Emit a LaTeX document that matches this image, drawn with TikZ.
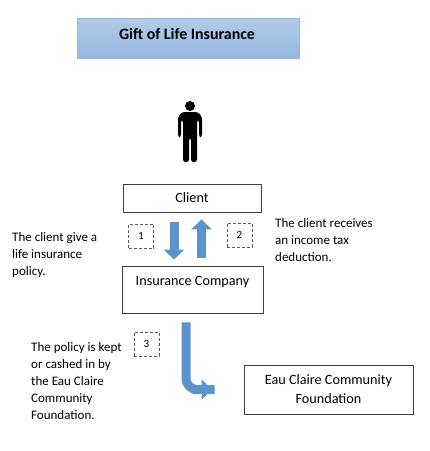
\documentclass[tikz,border=0pt]{standalone}
\usepackage{fontspec}
\setmainfont{Carlito}
\usepackage{xcolor}
\usepackage{tikz}
\usetikzlibrary{arrows.meta,positioning,calc}
\definecolor{arrowblue}{HTML}{5B93CC}
\definecolor{titletop}{HTML}{B4CBE9}
\definecolor{titlebottom}{HTML}{95B8E0}
\tikzset{
  bodytext/.style={font=\fontsize{13}{17.2}\selectfont, align=left, anchor=west, inner sep=0pt},
  whitebox/.style={draw=black!75, thick, fill=white, font=\fontsize{14.2}{19}\selectfont, align=center, inner sep=0pt},
  numbox/.style={draw=black!65, densely dashed, minimum width=25pt, minimum height=24pt, font=\fontsize{11}{13}\selectfont, inner sep=0pt},
  blockarrow/.style={arrowblue, line width=9pt, -{Triangle[length=10pt,width=20pt]}}
}

\begin{document}
\begin{tikzpicture}[x=1pt,y=-1pt]
  \useasboundingbox (0,0) rectangle (430,451);
  % Title
  \node[draw=titlebottom, top color=titletop, bottom color=titlebottom, minimum width=222pt, minimum height=40pt, inner sep=0pt] (title) at (188,38) {};
  \node[font=\fontsize{15.9}{18}\selectfont\bfseries, inner sep=0pt] (titletext) at (187,34) {Gift of Life Insurance};
  % Person
  \fill (190,106) circle (5);
  \fill[rounded corners=2.5pt] (178,137) -- (178,117) -- (182,112) -- (198,112) -- (202,117) -- (202,137) -- (199,137) -- (199,120) -- (197,120)
    -- (197,162) -- (191,162) -- (191,138) -- (189,138) -- (189,162) -- (183,162) -- (183,120) -- (181,120) -- (181,137) -- cycle;
  % Boxes
  \node[whitebox, minimum width=138pt, minimum height=28pt] (client) at (192,198) {\raisebox{-1.5pt}{Client}};
  \node[whitebox, minimum width=141pt, minimum height=47pt, text depth=19pt, text height=11pt] (company) at (192.5,289.5) {Insurance Company};
  \node[whitebox, minimum width=169pt, minimum height=49pt] (foundation) at (328.5,389.5) {\raisebox{-1.5pt}{Eau Claire Community}\\\raisebox{-1.5pt}{Foundation}};
  % Numbers
  \node[numbox] (one) at (141,236) {\raisebox{-2pt}{1}};
  \node[numbox] (two) at (239.5,235) {\raisebox{-1.5pt}{2}};
  \node[numbox] (three) at (146.5,344) {3};
  % Arrows
  \draw[blockarrow, shorten <=10pt, shorten >=6pt] ([xshift=-18pt]client.south) -- ([xshift=-18.5pt]company.north);
  \draw[blockarrow, shorten <=8pt, shorten >=7pt] ([xshift=9pt]company.north) -- ([xshift=9.5pt]client.south);
  \draw[blockarrow, rounded corners=11pt, shorten <=9pt, shorten >=32pt] ([xshift=-6.5pt]company.south) |- ($(foundation.west)+(-40,0)$) -- (foundation.west);
  % Descriptions
  \node[bodytext] (givetext) at (12,255) {The client give a\\life insurance\\policy.};
  \node[bodytext] (receivetext) at (275,240) {The client receives\\an income tax\\deduction.};
  \node[bodytext] (policytext) at (31,381) {The policy is kept\\or cashed in by\\the Eau Claire\\Community\\Foundation.};
\end{tikzpicture}
\end{document}
